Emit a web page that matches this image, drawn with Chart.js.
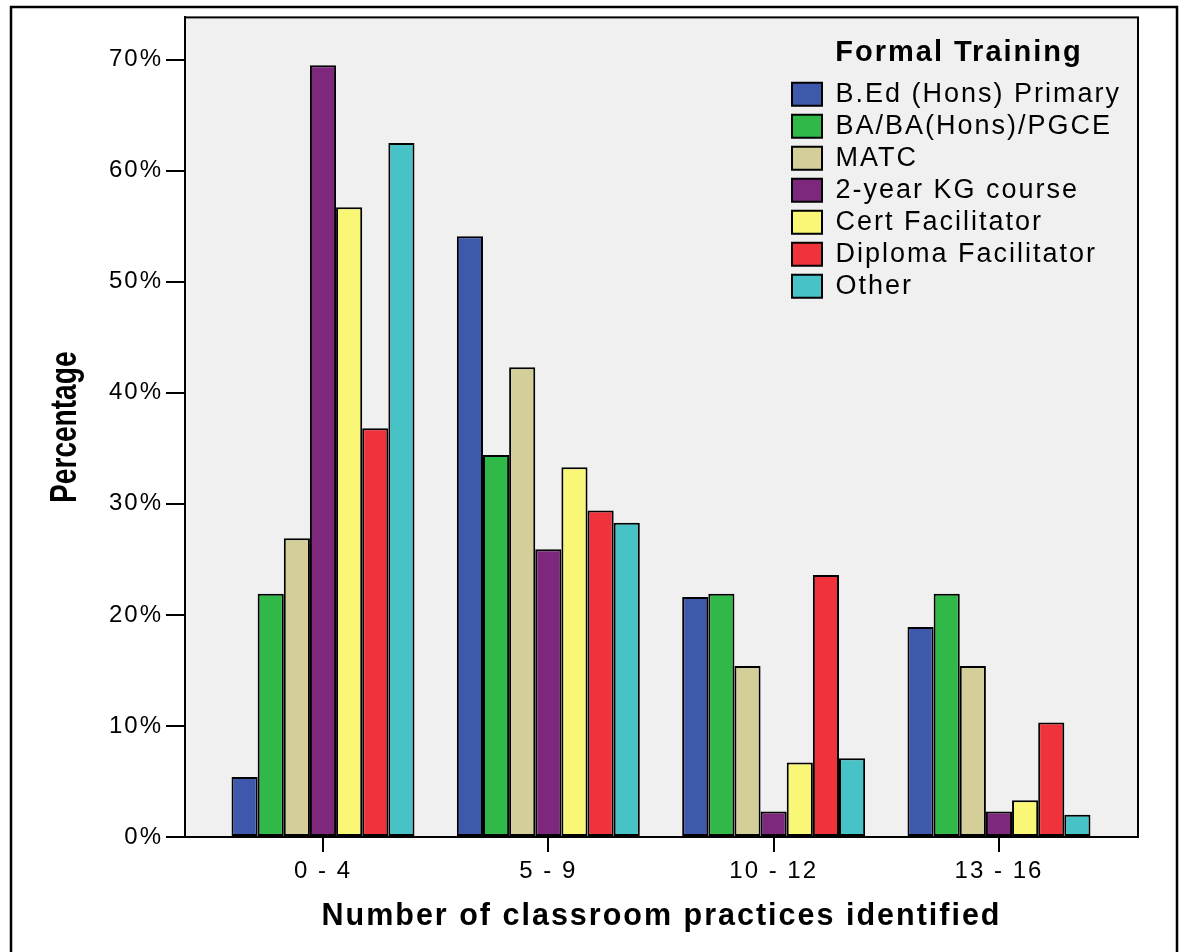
<!DOCTYPE html>
<html>
<head>
<meta charset="utf-8">
<script src="https://cdn.jsdelivr.net/npm/chart.js@4.4.1/dist/chart.umd.min.js"></script>
<style>
  html, body { margin: 0; padding: 0; background: #fff; }
  #wrap { width: 1188px; height: 952px; position: relative; }
</style>
</head>
<body>
<div id="wrap"><canvas id="practiceChart"></canvas></div>
<script>
// x groups (number of practices identified)
const ranges = ['0 - 4', '5 - 9', '10 - 12', '13 - 16'];
const yTicks = [0, 10, 20, 30, 40, 50, 60, 70];

// percentage per training type, one value per range
const bedPrimary = [5.4, 54.1, 21.6, 18.9];
const baPgce = [21.9, 34.4, 21.9, 21.9];
const matc = [26.9, 42.3, 15.4, 15.4];
const kgCourse = [69.5, 25.9, 2.3, 2.3];
const certFac = [56.7, 33.3, 6.7, 3.3];
const diplomaFac = [36.8, 29.4, 23.6, 10.3];
const other = [62.5, 28.3, 7.1, 2.0];

const trainingNames = ['B.Ed (Hons) Primary', 'BA/BA(Hons)/PGCE', 'MATC', '2-year KG course', 'Cert Facilitator', 'Diploma Facilitator', 'Other'];
const trainingSeries = [bedPrimary, baPgce, matc, kgCourse, certFac, diplomaFac, other];
const trainingColors = ['#3e58ac', '#30b848', '#d4cf98', '#7d287c', '#fbf776', '#f0323a', '#47c2c6'];

const FONT = "'Liberation Sans', Arial, sans-serif";
const yTitle = 'Percentage';

const datasets = trainingSeries.map((vals, i) => ({
  label: trainingNames[i],
  data: vals.map((v, k) => ({ x: k, y: v })),
  backgroundColor: trainingColors[i],
  borderColor: '#000',
  borderWidth: 2,
  borderSkipped: false,
  categoryPercentage: 0.812,
  barPercentage: 1,
}));

// letter spacing like the original export, gray plot box, outer frame,
// condensed y title
const framePlugin = {
  id: 'frame',
  beforeUpdate(chart) { chart.ctx.letterSpacing = '2px'; },
  afterLayout(chart) {
    const lg = chart.legend;
    lg.left = 787;
    lg.top = 38;
  },
  beforeDraw(chart) {
    const { ctx, chartArea: a } = chart;
    ctx.letterSpacing = '2px';
    ctx.save();
    ctx.fillStyle = '#f0f0f0';
    ctx.fillRect(a.left, a.top, a.right - a.left, a.bottom - a.top);
    ctx.restore();
  },
  afterDraw(chart) {
    const { ctx, chartArea: a } = chart;
    ctx.save();
    ctx.strokeStyle = '#000';
    ctx.lineWidth = 2;
    ctx.strokeRect(a.left, a.top, a.right - a.left, a.bottom - a.top);
    ctx.lineWidth = 2.5;
    ctx.strokeRect(11, 7, 1166, 970);

    ctx.letterSpacing = '0px';
    ctx.translate(66, (a.top + a.bottom) / 2);
    ctx.rotate(-Math.PI / 2);
    ctx.scale(0.78, 1);
    ctx.font = 'bold 36px ' + FONT;
    ctx.fillStyle = '#000';
    ctx.textAlign = 'center';
    ctx.textBaseline = 'middle';
    ctx.fillText(yTitle, 0, 0);
    ctx.restore();
  }
};

const ctx = document.getElementById('practiceChart').getContext('2d');
new Chart(ctx, {
  type: 'bar',
  data: { datasets: datasets },
  options: {
    responsive: true,
    maintainAspectRatio: false,
    animation: false,
    layout: { padding: { top: 17, right: 50, left: 0, bottom: 0 } },
    plugins: {
      tooltip: { enabled: false },
      legend: {
        position: 'chartArea',
        align: 'start',
        title: {
          display: true,
          text: 'Formal Training',
          color: '#000',
          padding: { top: 0, bottom: 3 },
          font: { family: FONT, size: 29, weight: 'bold' }
        },
        labels: {
          color: '#000',
          boxWidth: 30,
          boxHeight: 23,
          padding: 5,
          font: { family: FONT, size: 27 }
        }
      }
    },
    scales: {
      x: {
        type: 'linear',
        min: -0.6125,
        max: 3.617,
        offset: false,
        afterFit: (scale) => { scale.height = 115; },
        ticks: {
          stepSize: 1,
          includeBounds: false,
          autoSkip: false,
          maxRotation: 0,
          color: '#000',
          padding: 5,
          font: { family: FONT, size: 24 },
          callback: (v) => (ranges[v] !== undefined ? ranges[v] : '')
        },
        grid: { offset: false, drawOnChartArea: false, tickLength: 15, color: '#000', lineWidth: 2 },
        border: { color: '#000', width: 2 },
        title: {
          display: true,
          text: 'Number of classroom practices identified',
          color: '#000',
          padding: { top: 0, bottom: 17 },
          font: { family: FONT, size: 30.5, weight: 'bold' }
        }
      },
      y: {
        min: 0,
        max: 73.8,
        afterFit: (scale) => { scale.width = 185; },
        afterBuildTicks: (scale) => { scale.ticks = yTicks.map(v => ({ value: v })); },
        ticks: {
          color: '#000',
          padding: 3,
          font: { family: FONT, size: 24 },
          callback: (v) => v + '%'
        },
        grid: { drawOnChartArea: false, tickLength: 19, color: '#000', lineWidth: 2 },
        border: { color: '#000', width: 2 },
        title: { display: false }
      }
    }
  },
  plugins: [framePlugin]
});
</script>
</body>
</html>
